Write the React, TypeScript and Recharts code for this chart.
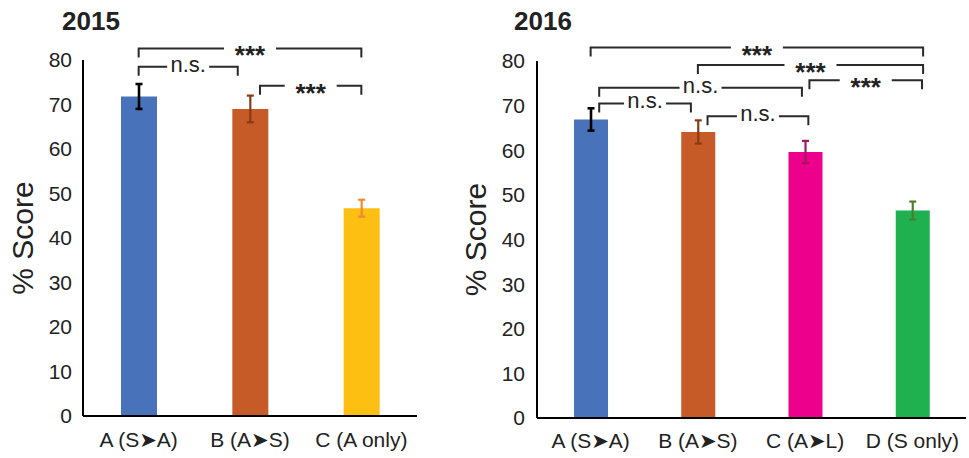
import React from "react";
import { BarChart, Bar, XAxis, YAxis, ErrorBar, Cell, ReferenceLine } from "recharts";

// values
const labels2015 = ["A (S➤A)", "B (A➤S)", "C (A only)"];
const scores2015 = [71.8, 69.0, 46.7];
const errors2015 = [2.8, 3.0, 1.9];
const brackets2015 = [
  { from: 0, to: 2, y: 82.6, text: "***" },
  { from: 0, to: 0.89, y: 78.5, text: "n.s." },
  { from: 1.09, to: 2, y: 74.2, text: "***" },
];

const labels2016 = ["A (S➤A)", "B (A➤S)", "C (A➤L)", "D (S only)"];
const scores2016 = [66.9, 64.1, 59.6, 46.5];
const errors2016 = [2.5, 2.6, 2.5, 2.0];
const brackets2016 = [
  { from: 0, to: 3.1, y: 83.0, text: "***" },
  { from: 1.0, to: 3.1, y: 79.1, text: "***" },
  { from: 2.04, to: 3.09, y: 75.7, text: "***" },
  { from: 0.08, to: 1.97, y: 74.0, text: "n.s." },
  { from: 0.08, to: 0.935, y: 70.5, text: "n.s." },
  { from: 1.09, to: 2.03, y: 67.6, text: "n.s." },
];

const yTicks = [0, 10, 20, 30, 40, 50, 60, 70, 80];

const FONT = "'Liberation Sans', Arial, Helvetica, 'DejaVu Sans', sans-serif";
const BAR_COLORS_2015 = ["#4872B9", "#C65B28", "#FDBF12"];
const ERR_COLORS_2015 = ["#000000", "#8B3A16", "#F08A30"];
const BAR_COLORS_2016 = ["#4872B9", "#C65B28", "#EC008C", "#1FB04F"];
const ERR_COLORS_2016 = ["#000000", "#8B3A16", "#A5175E", "#4E7F2E"];

interface Bracket {
  from: number;
  to: number;
  y: number;
  text: string;
}

function bracketShape(text: string) {
  const stars = text === "***";
  return (p: any) => {
    const { x1, x2, y1 } = p;
    const mid = (x1 + x2) / 2;
    const half = stars ? 26 : 21;
    const drop = 9;
    return (
      <g>
        <path
          d={`M${x1},${y1 + drop}V${y1}H${mid - half}M${mid + half},${y1}H${x2}V${y1 + drop}`}
          fill="none"
          stroke="#2a2a2a"
          strokeWidth={2}
        />
        <text
          x={mid}
          y={y1 + (stars ? 16 : 5)}
          textAnchor="middle"
          fontSize={stars ? 26 : 22}
          fontWeight={stars ? "bold" : "normal"}
          fill="#222"
          fontFamily={FONT}
        >
          {text}
        </text>
      </g>
    );
  };
}

interface ChartProps {
  labels: string[];
  scores: number[];
  errors: number[];
  barColors: string[];
  errColors: string[];
  brackets: Bracket[];
  width: number;
  top: number;
  right: number;
  yAxisWidth: number;
  xAxisHeight: number;
  barSize: number;
  labelOffset: number;
  yTickMargin: number;
  xTickMargin: number;
}

function ScoreChart(props: ChartProps) {
  const { labels, scores, errors, barColors, errColors, brackets } = props;
  const data = labels.map((name, i) => ({
    x: i,
    name,
    score: scores[i],
    ["e" + i]: errors[i],
  }));

  return (
    <BarChart
      width={props.width}
      height={458}
      data={data}
      margin={{ top: props.top, right: props.right, bottom: 0, left: 0 }}
    >
      <XAxis
        dataKey="x"
        type="number"
        domain={[-0.5, labels.length - 0.5]}
        ticks={labels.map((_, i) => i)}
        interval={0}
        tickFormatter={(v) => labels[v] ?? ""}
        tickLine={false}
        tickSize={0}
        tickMargin={props.xTickMargin}
        height={props.xAxisHeight}
        axisLine={{ stroke: "#000", strokeWidth: 2 }}
        tick={{ fontSize: 21, fill: "#222", fontFamily: FONT }}
      />
      <YAxis
        type="number"
        domain={[0, 80]}
        ticks={yTicks}
        interval={0}
        width={props.yAxisWidth}
        tickLine={false}
        tickSize={0}
        tickMargin={props.yTickMargin}
        axisLine={{ stroke: "#000", strokeWidth: 2 }}
        tick={{ fontSize: 21, fill: "#222", fontFamily: FONT }}
        label={{
          value: "% Score",
          angle: -90,
          position: "insideLeft",
          offset: props.labelOffset,
          style: { textAnchor: "middle", fontSize: 30, fill: "#222", fontFamily: FONT },
        }}
      />
      <Bar dataKey="score" barSize={props.barSize} isAnimationActive={false}>
        {data.map((_, i) => (
          <Cell key={i} fill={barColors[i]} />
        ))}
        {labels.map((_, i) => (
          <ErrorBar
            key={i}
            dataKey={"e" + i}
            direction="y"
            width={3.5}
            stroke={errColors[i]}
            strokeWidth={i === 0 ? 2.6 : 2.2}
            isAnimationActive={false}
          />
        ))}
      </Bar>
      {brackets.map((b, i) => (
        <ReferenceLine
          key={i}
          segment={[
            { x: b.from, y: b.y },
            { x: b.to, y: b.y },
          ]}
          ifOverflow="visible"
          shape={bracketShape(b.text)}
        />
      ))}
    </BarChart>
  );
}

const titleStyle: React.CSSProperties = {
  position: "absolute",
  top: 8,
  fontSize: 26,
  lineHeight: "26px",
  fontWeight: "bold",
  color: "#222",
  fontFamily: FONT,
};

export default function App() {
  return (
    <div
      style={{
        position: "absolute",
        left: 0,
        top: 0,
        width: 969,
        height: 458,
        background: "#fff",
        overflow: "hidden",
      }}
    >
      <div style={{ ...titleStyle, left: 62 }}>2015</div>
      <div style={{ ...titleStyle, left: 514 }}>2016</div>
      <div style={{ position: "absolute", left: 0, top: 0 }}>
        <ScoreChart
          labels={labels2015}
          scores={scores2015}
          errors={errors2015}
          barColors={BAR_COLORS_2015}
          errColors={ERR_COLORS_2015}
          brackets={brackets2015}
          width={440}
          top={60}
          right={23}
          yAxisWidth={83}
          xAxisHeight={42}
          barSize={36}
          labelOffset={22}
          yTickMargin={11}
          xTickMargin={16}
        />
      </div>
      <div style={{ position: "absolute", left: 460, top: 0 }}>
        <ScoreChart
          labels={labels2016}
          scores={scores2016}
          errors={errors2016}
          barColors={BAR_COLORS_2016}
          errColors={ERR_COLORS_2016}
          brackets={brackets2016}
          width={509}
          top={61}
          right={3}
          yAxisWidth={77}
          xAxisHeight={40}
          barSize={34}
          labelOffset={15}
          yTickMargin={12}
          xTickMargin={15}
        />
      </div>
    </div>
  );
}
